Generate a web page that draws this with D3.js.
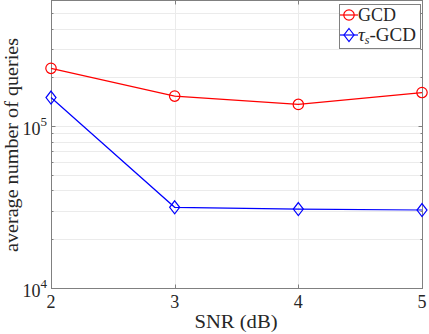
<!DOCTYPE html>
<html>
<head>
<meta charset="utf-8">
<style>
  html, body { margin: 0; padding: 0; background: #fff; }
  svg text { font-family: "Liberation Serif", "DejaVu Serif", serif; fill: #262626; }
</style>
<script src="https://cdnjs.cloudflare.com/ajax/libs/d3/7.8.5/d3.min.js"></script>
</head>
<body>
<svg id="chart" width="429" height="334"></svg>
<script>
  // values (log scale)
  var snr = [2, 3, 4, 5];
  var gcd = [2.27e5, 1.53e5, 1.36e5, 1.61e5];
  var tauGcd = [1.50e5, 3.15e4, 3.07e4, 3.03e4];
  var xTicks = [2, 3, 4, 5];
  var yMajor = [1e4, 1e5];

  var W = 429, H = 334;
  var m = { left: 51, right: 7, top: 0, bottom: 46 };
  var svg = d3.select("#chart");

  var x = d3.scaleLinear().domain([2, 5]).range([m.left, W - m.right]);
  var y = d3.scaleLog().domain([1e4, 6e5]).range([H - m.bottom, m.top]);

  // minor decades 2..9
  var yMinor = [];
  [1e4, 1e5].forEach(function (d) {
    for (var k = 2; k <= 9; k++) if (d * k <= 6e5) yMinor.push(d * k);
  });

  var grid = svg.append("g").attr("stroke", "#ebebeb").attr("stroke-width", 1);
  yMinor.concat(yMajor).forEach(function (v) {
    grid.append("line").attr("x1", m.left).attr("x2", W - m.right)
      .attr("y1", Math.round(y(v)) + 0.5).attr("y2", Math.round(y(v)) + 0.5);
  });
  xTicks.forEach(function (v) {
    grid.append("line").attr("y1", m.top).attr("y2", H - m.bottom)
      .attr("x1", Math.round(x(v)) + 0.5).attr("x2", Math.round(x(v)) + 0.5);
  });

  // axes with inward ticks
  var axisColor = "#808080";
  var ax = svg.append("g").attr("stroke", axisColor).attr("stroke-width", 1).attr("fill", "none");
  var x0 = Math.round(x(2)) + 0.5, x1 = Math.round(x(5)) + 0.5;
  var y0 = Math.round(y(1e4)) + 0.5, y1 = Math.round(y(6e5)) + 0.5;
  ax.append("rect").attr("x", x0).attr("y", y1).attr("width", x1 - x0).attr("height", y0 - y1);
  yMajor.forEach(function (v) {
    var yy = Math.round(y(v)) + 0.5;
    ax.append("line").attr("x1", x0).attr("x2", x0 + 4).attr("y1", yy).attr("y2", yy);
    ax.append("line").attr("x1", x1).attr("x2", x1 - 4).attr("y1", yy).attr("y2", yy);
  });
  yMinor.forEach(function (v) {
    var yy = Math.round(y(v)) + 0.5;
    ax.append("line").attr("x1", x0).attr("x2", x0 + 2).attr("y1", yy).attr("y2", yy);
    ax.append("line").attr("x1", x1).attr("x2", x1 - 2).attr("y1", yy).attr("y2", yy);
  });
  xTicks.forEach(function (v) {
    var xx = Math.round(x(v)) + 0.5;
    ax.append("line").attr("x1", xx).attr("x2", xx).attr("y1", y0).attr("y2", y0 - 4);
    ax.append("line").attr("x1", xx).attr("x2", xx).attr("y1", y1).attr("y2", y1 + 4);
  });

  // tick labels
  xTicks.forEach(function (v) {
    svg.append("text").attr("x", x(v)).attr("y", H - m.bottom + 20)
      .attr("text-anchor", "middle").attr("font-size", 18).text(v);
  });
  yMajor.forEach(function (v) {
    var t = svg.append("text").attr("x", m.left - 4).attr("y", y(v) + 9)
      .attr("text-anchor", "end").attr("font-size", 18);
    t.append("tspan").text("10");
    t.append("tspan").attr("dy", -9).attr("font-size", 13).text(Math.log10(v));
  });

  // axis titles
  svg.append("text").attr("x", 236).attr("y", H - 6)
    .attr("text-anchor", "middle").attr("font-size", 19)
    .attr("textLength", 83).attr("lengthAdjust", "spacingAndGlyphs").text("SNR (dB)");
  svg.append("text").attr("transform", "translate(18,145) rotate(-90)")
    .attr("text-anchor", "middle").attr("font-size", 19)
    .attr("textLength", 214).attr("lengthAdjust", "spacingAndGlyphs").text("average number of queries");

  // series
  var line = d3.line().x(function (d) { return x(d[0]); }).y(function (d) { return y(d[1]); });
  var redPts = d3.zip(snr, gcd), bluePts = d3.zip(snr, tauGcd);
  svg.append("path").attr("d", line(redPts)).attr("fill", "none").attr("stroke", "#ff0000").attr("stroke-width", 1.2);
  svg.append("path").attr("d", line(bluePts)).attr("fill", "none").attr("stroke", "#0000ff").attr("stroke-width", 1.2);

  var diamond = function (cx, cy) {
    var rx = 5, ry = 6.5;
    return "M" + cx + "," + (cy - ry) + "L" + (cx + rx) + "," + cy + "L" + cx + "," + (cy + ry) + "L" + (cx - rx) + "," + cy + "Z";
  };
  svg.append("g").selectAll("circle").data(redPts).enter().append("circle")
    .attr("cx", function (d) { return x(d[0]); }).attr("cy", function (d) { return y(d[1]); })
    .attr("r", 5.2).attr("fill", "none").attr("stroke", "#ff0000").attr("stroke-width", 1.2);
  svg.append("g").selectAll("path").data(bluePts).enter().append("path")
    .attr("d", function (d) { return diamond(x(d[0]), y(d[1])); })
    .attr("fill", "none").attr("stroke", "#0000ff").attr("stroke-width", 1.2);

  // legend
  var lg = svg.append("g");
  lg.append("rect").attr("x", 339.5).attr("y", 4.5).attr("width", 81).attr("height", 44)
    .attr("fill", "#fff").attr("stroke", "#808080").attr("stroke-width", 1);
  lg.append("line").attr("x1", 340).attr("x2", 358).attr("y1", 15).attr("y2", 15).attr("stroke", "#ff0000").attr("stroke-width", 1.2);
  lg.append("circle").attr("cx", 349).attr("cy", 15).attr("r", 5.2).attr("fill", "none").attr("stroke", "#ff0000").attr("stroke-width", 1.2);
  lg.append("text").attr("x", 358).attr("y", 21).attr("font-size", 19)
    .attr("textLength", 38).attr("lengthAdjust", "spacingAndGlyphs").text("GCD");
  lg.append("line").attr("x1", 340).attr("x2", 358).attr("y1", 35).attr("y2", 35).attr("stroke", "#0000ff").attr("stroke-width", 1.2);
  lg.append("path").attr("d", diamond(349, 35)).attr("fill", "none").attr("stroke", "#0000ff").attr("stroke-width", 1.2);
  var t2 = lg.append("text").attr("x", 358).attr("y", 41).attr("font-size", 19);
  t2.append("tspan").attr("font-style", "italic").text("τ");
  t2.append("tspan").attr("font-style", "italic").attr("font-size", 12).attr("dy", 3).text("s");
  t2.append("tspan").attr("dy", -3).text("-GCD");
</script>
</body>
</html>
